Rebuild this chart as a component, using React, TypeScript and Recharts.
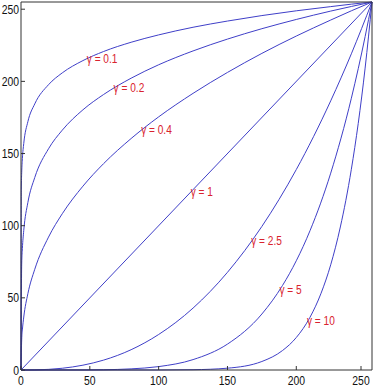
import { LineChart, Line, XAxis, YAxis, ReferenceDot } from 'recharts';

const axisTicks = [0, 50, 100, 150, 200, 250];

// curve samples: x positions and y values per gamma
const x01 = [0, 0.2, 0.5, 1, 2, 5, 10, 20, 30, 45, 60, 80, 100, 125, 150, 175, 200, 225, 240, 255];
const y01 = [0, 124.8, 136.7, 146.5, 157.0, 172.1, 184.4, 197.7, 205.9, 214.4, 220.7, 227.1, 232.2, 237.5, 241.8, 245.6, 248.9, 251.8, 253.5, 255];

const x02 = [0, 0.5, 1, 2, 5, 10, 20, 30, 45, 60, 80, 100, 125, 150, 175, 200, 225, 240, 255];
const y02 = [0, 73.3, 84.2, 96.7, 116.1, 133.4, 153.3, 166.2, 180.3, 190.9, 202.2, 211.5, 221.1, 229.3, 236.5, 242.9, 248.7, 251.9, 255];

const x04 = [0, 0.5, 1, 2, 5, 10, 20, 30, 45, 60, 80, 100, 125, 150, 175, 200, 225, 240, 255];
const y04 = [0, 21.1, 27.8, 36.7, 52.9, 69.8, 92.1, 108.3, 127.4, 143.0, 160.4, 175.4, 191.7, 206.2, 219.4, 231.4, 242.5, 248.9, 255];

const x1 = [0, 255];
const y1 = [0, 255];

const x25 = [0, 10, 20, 30, 45, 60, 80, 100, 125, 150, 175, 200, 225, 240, 255];
const y25 = [0, 0.08, 0.44, 1.21, 3.34, 6.85, 14.06, 24.6, 42.9, 67.7, 99.5, 138.9, 186.5, 219.1, 255];

const x5 = [0, 45, 60, 80, 100, 125, 150, 175, 190, 200, 210, 225, 240, 250, 255];
const y5 = [0, 0.04, 0.18, 0.78, 2.36, 7.2, 17.95, 38.8, 58.6, 75.7, 96.6, 136.4, 188.3, 231.0, 255];

const x10 = [0, 100, 125, 150, 175, 190, 200, 210, 218, 225, 232, 240, 245, 250, 255];
const y10 = [0, 0.02, 0.2, 1.26, 5.9, 13.5, 22.5, 36.6, 53.2, 72.9, 99.1, 139.1, 170.9, 209.2, 255];

const labelText = ['γ = 0.1', 'γ = 0.2', 'γ = 0.4', 'γ = 1', 'γ = 2.5', 'γ = 5', 'γ = 10'];
const labelX = [48.5, 68, 88, 124, 168, 188.5, 208.5];
const labelY = [216, 196, 166.5, 124, 90, 56, 34.3];

const curves = [
  [x01, y01],
  [x02, y02],
  [x04, y04],
  [x1, y1],
  [x25, y25],
  [x5, y5],
  [x10, y10],
].map(([xs, ys]) => xs.map((x, i) => ({ x, y: ys[i] })));

const FONT = '"Liberation Sans", Arial, sans-serif';
const LINE = '#3f3fc8';
const RED = '#d9232e';
const AXIS = '#333';
const SQUEEZE = 0.8; // condensed look of the original font

const BottomTick = ({ x, y, payload }: any) => (
  <g>
    <line x1={x} x2={x} y1={y} y2={y - 4} stroke={AXIS} />
    <text
      transform={`translate(${x},${y + 15}) scale(${SQUEEZE},1)`}
      textAnchor="middle"
      fontSize={13}
      fontFamily={FONT}
      fill="#111"
    >
      {payload.value}
    </text>
  </g>
);

const LeftTick = ({ x, y, payload }: any) => (
  <g>
    <line x1={x} x2={x + 4} y1={y} y2={y} stroke={AXIS} />
    <text
      transform={`translate(${x - 2},${y + 4.5}) scale(${SQUEEZE},1)`}
      textAnchor="end"
      fontSize={13}
      fontFamily={FONT}
      fill="#111"
    >
      {payload.value}
    </text>
  </g>
);

const TopTick = ({ x, y }: any) => <line x1={x} x2={x} y1={y} y2={y + 4} stroke={AXIS} />;
const RightTick = ({ x, y }: any) => <line x1={x} x2={x - 4} y1={y} y2={y} stroke={AXIS} />;

export default function App() {
  return (
    <div style={{ position: 'absolute', left: 0, top: 0 }}>
      <LineChart width={373} height={388} margin={{ top: 0, right: 0, left: 0, bottom: 0 }}>
        <XAxis
          dataKey="x"
          type="number"
          domain={[0, 255]}
          ticks={axisTicks}
          height={18}
          tickSize={0}
          tickMargin={0}
          stroke={AXIS}
          tick={<BottomTick />}
          allowDuplicatedCategory={false}
        />
        <XAxis
          xAxisId="top"
          orientation="top"
          type="number"
          domain={[0, 255]}
          ticks={axisTicks}
          height={2}
          tickSize={0}
          tickMargin={0}
          stroke={AXIS}
          tick={<TopTick />}
        />
        <YAxis
          dataKey="y"
          type="number"
          domain={[0, 255]}
          ticks={axisTicks}
          width={21}
          tickSize={0}
          tickMargin={0}
          stroke={AXIS}
          tick={<LeftTick />}
        />
        <YAxis
          yAxisId="right"
          orientation="right"
          type="number"
          domain={[0, 255]}
          ticks={axisTicks}
          width={1}
          tickSize={0}
          tickMargin={0}
          stroke={AXIS}
          tick={<RightTick />}
        />
        {curves.map((d, i) => (
          <Line
            key={i}
            data={d}
            dataKey="y"
            type="monotone"
            stroke={LINE}
            strokeWidth={1}
            dot={false}
            activeDot={false}
            isAnimationActive={false}
          />
        ))}
        {labelText.map((t, i) => (
          <ReferenceDot
            key={t}
            x={labelX[i]}
            y={labelY[i]}
            r={0}
            shape={(p: any) => (
              <text
                transform={`translate(${p.cx - 1},${p.cy + 4.5}) scale(0.78,1)`}
                fontSize={13}
                fontFamily={FONT}
                fill={RED}
              >
                {t}
              </text>
            )}
          />
        ))}
      </LineChart>
    </div>
  );
}
